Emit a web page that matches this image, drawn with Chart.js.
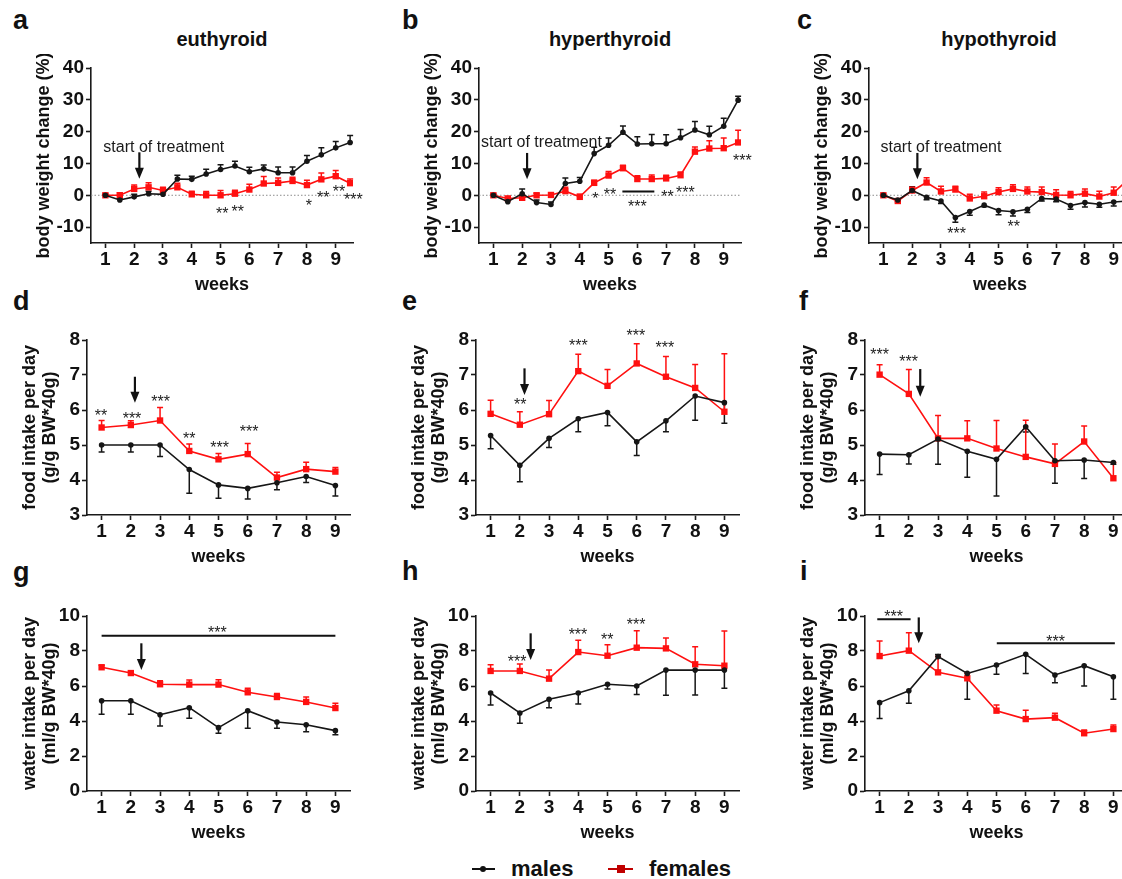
<!DOCTYPE html>
<html>
<head>
<meta charset="utf-8">
<title>Body weight, food and water intake</title>
<script src="https://cdn.jsdelivr.net/npm/chart.js@4.4.1/dist/chart.umd.min.js"></script>
<style>
  html, body { margin: 0; padding: 0; background: #fff; }
  body { width: 1122px; height: 879px; overflow: hidden; position: relative;
         font-family: 'Liberation Sans', Arial, sans-serif; color: #111; }
  canvas { position: absolute; }
  .lbl { position: absolute; font-weight: bold; line-height: 1; white-space: nowrap; }
  .letter { font-size: 27px; }
  .title { font-size: 20px; transform: translateX(-50%); }
  .legend { font-size: 22px; }
  .key { position: absolute; }
</style>
</head>
<body>

<div class="lbl letter" style="left:13px;top:7px">a</div>
<div class="lbl letter" style="left:402px;top:7px">b</div>
<div class="lbl letter" style="left:797px;top:7px">c</div>
<div class="lbl letter" style="left:13px;top:288px">d</div>
<div class="lbl letter" style="left:402px;top:288px">e</div>
<div class="lbl letter" style="left:799px;top:288px">f</div>
<div class="lbl letter" style="left:13px;top:559px">g</div>
<div class="lbl letter" style="left:402px;top:558px">h</div>
<div class="lbl letter" style="left:800px;top:558px">i</div>

<div class="lbl title" style="left:222px;top:29px">euthyroid</div>
<div class="lbl title" style="left:610px;top:29px">hyperthyroid</div>
<div class="lbl title" style="left:999px;top:29px">hypothyroid</div>

<div class="key" style="left:472px;top:868px;width:23px;height:2px;background:#111"></div>
<div class="key" style="left:480px;top:866px;width:6px;height:6px;border-radius:3px;background:#111"></div>
<div class="lbl legend" style="left:511px;top:858px">males</div>
<div class="key" style="left:608px;top:868px;width:25px;height:2px;background:#c00000"></div>
<div class="key" style="left:617px;top:865px;width:8px;height:8px;background:#c00000"></div>
<div class="lbl legend" style="left:649px;top:858px">females</div>

<script>
// x values
const halfWeeks = [1, 1.5, 2, 2.5, 3, 3.5, 4, 4.5, 5, 5.5, 6, 6.5, 7, 7.5, 8, 8.5, 9, 9.5];
const weeks = [1, 2, 3, 4, 5, 6, 7, 8, 9];

// y tick labels
const bwTicks = [-10, 0, 10, 20, 30, 40];
const foodTicks = [3, 4, 5, 6, 7, 8];
const waterTicks = [0, 2, 4, 6, 8, 10];

// body weight change (%) - errors: + drawn up, - drawn down
const maleA = [0, -1.5, -0.5, 0.5, 0.3, 5.1, 5.0, 6.7, 8.1, 9.2, 7.4, 8.3, 7.1, 7.1, 10.7, 12.7, 14.9, 16.6];
const maleAErr = [0.3, 0.5, 0.8, 0.8, 0.8, 1.2, 1.0, 1.5, 1.5, 1.5, 1.4, 1.2, 1.8, 1.8, 1.8, 2.2, 2.0, 2.2];
const femaleA = [0, 0, 2.0, 2.5, 1.5, 2.5, 0.3, 0, 0, 0.5, 1.8, 3.7, 3.9, 4.5, 3.2, 5.0, 6.0, 3.8];
const femaleAErr = [0.3, 0.8, 1.2, 1.4, 1.0, 1.3, 1.0, 1.2, 1.5, 1.1, 1.7, 2.2, 1.5, 1.2, 1.5, 2.0, 1.8, 1.3];

const maleB = [0, -2, 0.5, -2.3, -2.9, 3.7, 4.4, 13.1, 15.7, 19.8, 16.1, 16.2, 16.2, 18.1, 20.5, 19.0, 21.7, 29.9];
const maleBErr = [0.3, 0.6, 1.5, 0.8, 0.8, 1.7, 1.2, 2.0, 2.3, 2.0, 2.3, 2.9, 2.8, 2.6, 2.7, 2.7, 2.5, 1.2];
const femaleB = [0, -1, -0.8, 0, 0.1, 1.3, -0.5, 3.9, 6.2, 8.5, 5.1, 5.1, 5.3, 6.3, 13.7, 14.7, 14.8, 16.6];
const femaleBErr = [0.3, 0.6, 0.7, 0.6, 0.5, 1.2, 0.8, 0.8, 1.3, 0.9, 1.0, 1.3, 1.0, 1.0, 1.5, 2.4, 3.2, 3.8];

const maleC = [0, -1.5, 1.5, -0.6, -1.8, -7.0, -5.1, -3.1, -4.8, -5.2, -4.4, -1.0, -1.2, -3.2, -2.3, -2.8, -2.1, -1.8];
const maleCErr = [-0.3, -0.5, 1.2, -0.8, -0.8, -1.5, -1.2, -0.5, -1.3, -1.3, -1.0, -0.8, -0.8, -1.2, -1.4, -1.0, -1.3, -1.0];
const femaleC = [0, -1.8, 1.5, 4.0, 1.2, 1.8, -1.0, -0.3, 1.0, 2.0, 1.2, 1.0, 0.1, 0, 0.5, -0.4, 0.8, 5.0];
const femaleCErr = [0.3, 0.6, 1.0, 1.5, 1.6, 1.0, 1.3, 1.3, 1.4, 1.3, 1.4, 1.6, 1.6, 1.2, 1.5, 1.7, 1.8, 1.5];

// food intake per day (g/g BW*40g)
const maleD = [5.0, 5.0, 5.0, 4.3, 3.86, 3.76, 3.92, 4.1, 3.84];
const maleDErr = [-0.2, -0.2, -0.33, -0.68, -0.38, -0.3, -0.2, -0.17, -0.3];
const femaleD = [5.5, 5.57, 5.7, 4.83, 4.59, 4.74, 4.07, 4.31, 4.24];
const femaleDErr = [0.2, 0.12, 0.37, 0.2, 0.17, 0.3, 0.15, 0.2, 0.12];

const maleE = [5.27, 4.42, 5.19, 5.75, 5.93, 5.09, 5.69, 6.4, 6.21];
const maleEErr = [-0.38, -0.47, -0.26, -0.37, -0.38, -0.39, -0.31, -0.69, -0.59];
const femaleE = [5.89, 5.58, 5.88, 7.11, 6.69, 7.33, 6.95, 6.63, 5.95];
const femaleEErr = [0.39, 0.37, 0.39, 0.48, 0.47, 0.56, 0.58, 0.67, 1.66];

const maleF = [4.74, 4.72, 5.17, 4.82, 4.59, 5.52, 4.55, 4.57, 4.5];
const maleFErr = [-0.58, -0.26, -0.72, -0.74, -1.05, -0.15, -0.64, -0.53, -0.05];
const femaleF = [7.01, 6.46, 5.19, 5.19, 4.9, 4.66, 4.46, 5.1, 4.05];
const femaleFErr = [0.28, 0.7, 0.65, 0.5, 0.8, 1.05, 0.57, 0.44, 0.45];

// water intake per day (ml/g BW*40g)
const maleG = [5.16, 5.16, 4.36, 4.76, 3.62, 4.59, 3.94, 3.79, 3.45];
const maleGErr = [-0.78, -0.78, -0.65, -0.6, -0.32, -1.0, -0.36, -0.4, -0.23];
const femaleG = [7.07, 6.74, 6.1, 6.08, 6.08, 5.64, 5.37, 5.09, 4.74];
const femaleGErr = [0.12, 0.08, 0.2, 0.27, 0.28, 0.23, 0.2, 0.28, 0.27];

const maleH = [5.6, 4.46, 5.24, 5.6, 6.1, 6.0, 6.91, 6.91, 6.91];
const maleHErr = [-0.69, -0.59, -0.48, -0.63, -0.27, -0.48, -1.44, -1.42, -1.04];
const femaleH = [6.86, 6.86, 6.42, 7.94, 7.73, 8.19, 8.15, 7.24, 7.16];
const femaleHErr = [0.36, 0.4, 0.5, 0.67, 0.63, 0.97, 0.6, 1.0, 1.98];

const maleI = [5.05, 5.73, 7.68, 6.72, 7.2, 7.81, 6.63, 7.16, 6.53];
const maleIErr = [-0.9, -0.71, 0.12, -1.48, -0.53, -1.09, -0.44, -1.16, -1.29];
const femaleI = [7.71, 8.02, 6.78, 6.44, 4.59, 4.11, 4.19, 3.3, 3.54];
const femaleIErr = [0.86, 1.03, 0.9, 0.29, 0.32, 0.51, 0.25, 0.19, 0.23];

// significance marks [week, value, text], bars [from, to, value], arrow [week, top, tip]
const starsA = [[5.06, -4.5, '**'], [5.6, -3.9, '**'], [8.07, -2.1, '*'], [8.57, 0.3, '**'], [9.11, 2.3, '**'], [9.61, -0.3, '***']];
const starsB = [[4.54, 0.2, '*'], [5.05, 1.4, '**'], [6.0, -2.4, '***'], [7.05, 0.85, '**'], [7.67, 2.0, '***'], [9.65, 12.0, '***']];
const starsC = [[3.54, -11.0, '***'], [5.53, -8.7, '**']];
const starsD = [[0.98, 5.95, '**'], [2.04, 5.86, '***'], [3.02, 6.34, '***'], [4.0, 5.28, '**'], [5.04, 5.03, '***'], [6.05, 5.48, '***']];
const starsE = [[2.01, 6.25, '**'], [4.0, 7.95, '***'], [5.97, 8.24, '***'], [6.96, 7.9, '***']];
const starsF = [[1.0, 7.69, '***'], [1.99, 7.48, '***']];
const starsG = [[4.96, 9.26, '***']];
const starsH = [[1.91, 7.58, '***'], [3.99, 9.16, '***'], [4.99, 8.86, '**'], [5.98, 9.7, '***']];
const starsI = [[1.48, 10.15, '***'], [7.02, 8.76, '***']];
const barsB = [[5.48, 6.59, 1.15]];
const barsG = [[1, 9, 8.87]];
const barsI = [[0.92, 2.06, 9.81], [5.01, 9.05, 8.44]];
const arrows = [[2.18, 13.5, 5.2], [2.17, 13.3, 5.0], [2.18, 13.3, 5.0],
                [2.14, 6.95, 6.21], [2.16, 7.19, 6.43], [2.39, 7.17, 6.38],
                [2.36, 8.44, 6.91], [2.37, 9.01, 7.49], [2.34, 9.92, 8.44]];
const treatmentNotes = [[3.03, 13.6], [2.67, 15.2], [3.0, 13.6]];

const FONT = "'Liberation Sans', Arial, sans-serif";
Chart.defaults.font.family = FONT;
Chart.defaults.color = '#111';

const rows = [
  { top: 68, plotW: 262, lefts: [91, 479, 869], yMin: -15, yMax: 40, ticks: bwTicks, xMax: 9.6,
    title: ['body weight change (%)'], titlePad: 13, zero: true },
  { top: 340, plotW: 263, lefts: [87, 476, 865], yMin: 3, yMax: 8, ticks: foodTicks, xMax: 9.5,
    title: ['food intake per day', '(g/g BW*40g)'], titlePad: 3, zero: false },
  { top: 616, plotW: 263, lefts: [87, 476, 865], yMin: 0, yMax: 10, ticks: waterTicks, xMax: 9.5,
    title: ['water intake per day', '(ml/g BW*40g)'], titlePad: 3, zero: false }
];

const panels = [
  { x: halfWeeks, male: maleA, maleErr: maleAErr, female: femaleA, femaleErr: femaleAErr, stars: starsA, bars: [] },
  { x: halfWeeks, male: maleB, maleErr: maleBErr, female: femaleB, femaleErr: femaleBErr, stars: starsB, bars: barsB },
  { x: halfWeeks, male: maleC, maleErr: maleCErr, female: femaleC, femaleErr: femaleCErr, stars: starsC, bars: [] },
  { x: weeks, male: maleD, maleErr: maleDErr, female: femaleD, femaleErr: femaleDErr, stars: starsD, bars: [] },
  { x: weeks, male: maleE, maleErr: maleEErr, female: femaleE, femaleErr: femaleEErr, stars: starsE, bars: [] },
  { x: weeks, male: maleF, maleErr: maleFErr, female: femaleF, femaleErr: femaleFErr, stars: starsF, bars: [] },
  { x: weeks, male: maleG, maleErr: maleGErr, female: femaleG, femaleErr: femaleGErr, stars: starsG, bars: barsG },
  { x: weeks, male: maleH, maleErr: maleHErr, female: femaleH, femaleErr: femaleHErr, stars: starsH, bars: [] },
  { x: weeks, male: maleI, maleErr: maleIErr, female: femaleI, femaleErr: femaleIErr, stars: starsI, bars: barsI }
];

const MALE = '#161616';
const FEMALE = '#ff1010';
const Y_W = 70, PAD_T = 14, PAD_R = 20, X_H = 55, PLOT_H = 175;

function overlay(p, idx, row) {
  return {
    id: 'overlay' + idx,
    beforeDatasetsDraw(chart) {
      const { ctx, chartArea: area, scales: { x, y } } = chart;
      ctx.save();
      if (row.zero) {
        const y0 = y.getPixelForValue(0);
        ctx.strokeStyle = '#8c8c8c';
        ctx.lineWidth = 1;
        ctx.setLineDash([1.5, 2]);
        ctx.beginPath();
        ctx.moveTo(area.left, y0);
        ctx.lineTo(area.right, y0);
        ctx.stroke();
        ctx.setLineDash([]);
      }
      // error bars
      chart.data.datasets.forEach(ds => {
        ctx.strokeStyle = ds.borderColor;
        ctx.lineWidth = 1.5;
        ds.data.forEach((pt, j) => {
          const px = x.getPixelForValue(pt.x);
          const py = y.getPixelForValue(pt.y);
          const py2 = y.getPixelForValue(pt.y + ds.errors[j]);
          ctx.beginPath();
          ctx.moveTo(px, py);
          ctx.lineTo(px, py2);
          ctx.moveTo(px - 3, py2);
          ctx.lineTo(px + 3, py2);
          ctx.stroke();
        });
      });
      ctx.restore();
    },
    afterDatasetsDraw(chart) {
      const { ctx, scales: { x, y } } = chart;
      ctx.save();
      ctx.fillStyle = '#222';
      ctx.strokeStyle = '#111';
      ctx.font = '16px ' + FONT;
      ctx.textAlign = 'center';
      ctx.textBaseline = 'alphabetic';
      p.stars.forEach(([wx, v, txt]) => {
        ctx.fillText(txt, x.getPixelForValue(wx), y.getPixelForValue(v) + 9);
      });
      ctx.lineWidth = 2;
      p.bars.forEach(([a, b, v]) => {
        const py = y.getPixelForValue(v);
        ctx.beginPath();
        ctx.moveTo(x.getPixelForValue(a), py);
        ctx.lineTo(x.getPixelForValue(b), py);
        ctx.stroke();
      });
      // arrow marking the start of treatment
      const [aw, aTop, aTip] = arrows[idx];
      const ax = x.getPixelForValue(aw);
      const yTop = y.getPixelForValue(aTop), yTip = y.getPixelForValue(aTip);
      ctx.lineWidth = 2.2;
      ctx.beginPath();
      ctx.moveTo(ax, yTop);
      ctx.lineTo(ax, yTip - 9);
      ctx.stroke();
      ctx.fillStyle = '#111';
      ctx.beginPath();
      ctx.moveTo(ax - 4.5, yTip - 11);
      ctx.lineTo(ax + 4.5, yTip - 11);
      ctx.lineTo(ax, yTip);
      ctx.closePath();
      ctx.fill();
      if (idx < 3) {
        const [nw, nv] = treatmentNotes[idx];
        ctx.fillStyle = '#1a1a1a';
        ctx.fillText('start of treatment', x.getPixelForValue(nw), y.getPixelForValue(nv));
      }
      ctx.restore();
    }
  };
}

panels.forEach((p, idx) => {
  const row = rows[Math.floor(idx / 3)];
  const left = row.lefts[idx % 3];
  const canvas = document.createElement('canvas');
  canvas.width = Y_W + row.plotW + PAD_R;
  canvas.height = PAD_T + PLOT_H + X_H;
  canvas.style.left = (left - Y_W) + 'px';
  canvas.style.top = (row.top - PAD_T) + 'px';
  document.body.appendChild(canvas);

  const toPoints = vals => vals.map((v, i) => ({ x: p.x[i], y: v }));

  new Chart(canvas.getContext('2d'), {
    type: 'line',
    data: {
      datasets: [
        { label: 'males', data: toPoints(p.male), errors: p.maleErr,
          borderColor: MALE, backgroundColor: MALE, borderWidth: 1.6,
          pointStyle: 'circle', pointRadius: 2.8, pointBorderWidth: 0, tension: 0 },
        { label: 'females', data: toPoints(p.female), errors: p.femaleErr,
          borderColor: FEMALE, backgroundColor: FEMALE, borderWidth: 1.6,
          pointStyle: 'rect', pointRadius: 4.5, pointBorderWidth: 0, tension: 0 }
      ]
    },
    options: {
      responsive: false,
      animation: false,
      events: [],
      layout: { padding: { top: PAD_T, right: PAD_R, left: 0, bottom: 0 } },
      plugins: { legend: { display: false }, tooltip: { enabled: false } },
      scales: {
        x: {
          type: 'linear', min: 0.5, max: row.xMax, bounds: 'data',
          afterBuildTicks: s => { s.ticks = weeks.map(v => ({ value: v })); },
          afterFit: s => { s.height = X_H; },
          border: { color: '#1a1a1a', width: 1.6 },
          grid: { drawOnChartArea: false, drawTicks: true, tickLength: 5,
                  color: '#1a1a1a', tickColor: '#1a1a1a', tickWidth: 1.6 },
          ticks: { font: { size: 19, weight: 'bold', lineHeight: 1 }, padding: 2, color: '#111', maxRotation: 0 },
          title: { display: true, text: 'weeks', color: '#111',
                   font: { size: 18, weight: 'bold', lineHeight: 1.2 }, padding: { top: 0, bottom: 2 } }
        },
        y: {
          type: 'linear', min: row.yMin, max: row.yMax, bounds: 'data',
          afterBuildTicks: s => { s.ticks = row.ticks.map(v => ({ value: v })); },
          afterFit: s => { s.width = Y_W; },
          border: { color: '#1a1a1a', width: 1.6 },
          grid: { drawOnChartArea: false, drawTicks: true, tickLength: 5,
                  color: '#1a1a1a', tickColor: '#1a1a1a', tickWidth: 1.6 },
          ticks: { font: { size: 19, weight: 'bold', lineHeight: 1 }, padding: 2, color: '#111' },
          title: { display: true, text: row.title, color: '#111',
                   font: { size: 18, weight: 'bold', lineHeight: 1.1 }, padding: { top: row.titlePad, bottom: 0 } }
        }
      }
    },
    plugins: [overlay(p, idx, row)]
  });
});
</script>
</body>
</html>
